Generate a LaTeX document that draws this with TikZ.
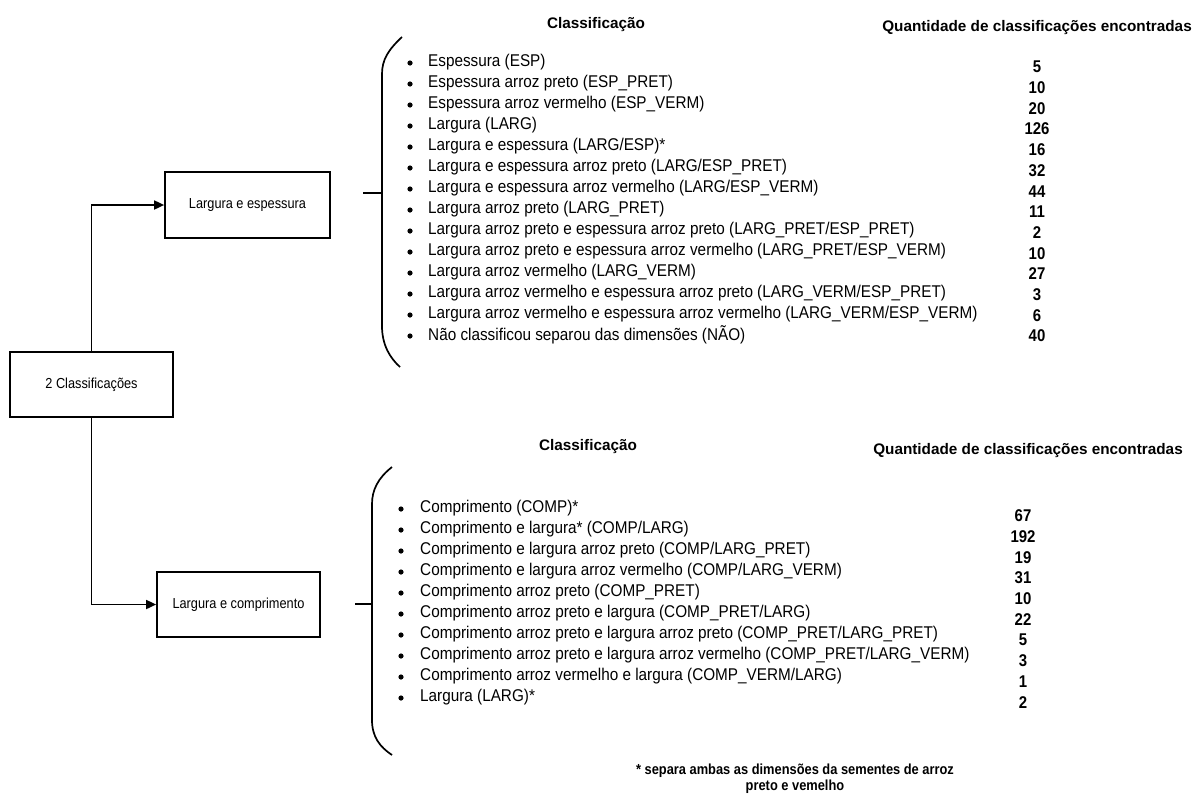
\documentclass[tikz,border=0pt]{standalone}
\usepackage{fontspec}
\setmainfont{Liberation Sans}
\newfontfamily\itemfont[FakeStretch=0.9]{Liberation Sans}
\newfontfamily\boxfont[FakeStretch=0.88]{Liberation Sans}
\newfontfamily\numfont[FakeStretch=0.88]{Liberation Sans}
\usetikzlibrary{arrows.meta}
\tikzset{
  flowbox/.style={draw, line width=1.7pt, inner sep=0pt, font=\boxfont\fontsize{14.5}{17}\selectfont},
  conn/.style={line width=1.7pt, -{Triangle[length=10pt,width=9pt]}},
  bracepath/.style={line width=1.7pt},
  itemtext/.style={anchor=west, inner sep=0pt, font=\itemfont\fontsize{17}{20}\selectfont},
  bul/.style={circle, fill, inner sep=0pt, minimum size=5.2pt},
  numtext/.style={inner sep=0pt, font=\numfont\bfseries\fontsize{17}{20}\selectfont},
  headtext/.style={inner sep=0pt, font=\bfseries\fontsize{15.3}{18}\selectfont},
  foottext/.style={inner sep=0pt, align=center, font=\numfont\bfseries\fontsize{14.6}{16}\selectfont},
}
\begin{document}
\begin{tikzpicture}[x=1pt,y=-1pt]
\useasboundingbox (0,0) rectangle (1193,793);
% boxes
\node[flowbox, minimum width=163pt, minimum height=65pt] (c2) at (91.5,384.5) {2 Classificações};
\node[flowbox, minimum width=165pt, minimum height=66pt] (le) at (247.5,205) {Largura e espessura};
\node[flowbox, minimum width=163pt, minimum height=65pt] (lc) at (238.5,604.5) {Largura e comprimento};
\draw[conn] (c2.north) |- (le.west);
\draw[conn] (c2.south) |- (lc.west);
% braces
\coordinate (tb) at (382,193);
\draw[bracepath] (402,37) .. controls (388,50) and (382,60) .. (382,74) -- (382,326) .. controls (382,345) and (390,358) .. (400,367);
\draw[bracepath] (363,193) -- (tb);
\coordinate (bb) at (372,604);
\draw[bracepath] (392,467) .. controls (378,478) and (372,490) .. (372,504) -- (372,720) .. controls (372,737) and (380,747) .. (392,755);
\draw[bracepath] (355,604) -- (bb);
% headers
\node[headtext] (h1) at (596,25) {Classificação};
\node[headtext] (q1) at (1037,28) {Quantidade de classificações encontradas};
\node[headtext] (h2) at (588,447) {Classificação};
\node[headtext] (q2) at (1028,451) {Quantidade de classificações encontradas};
% top list
\foreach \t [count=\i] in {
  Espessura (ESP),
  Espessura arroz preto (ESP\_PRET),
  Espessura arroz vermelho (ESP\_VERM),
  Largura (LARG),
  Largura e espessura (LARG/ESP)*,
  Largura e espessura arroz preto (LARG/ESP\_PRET),
  Largura e espessura arroz vermelho (LARG/ESP\_VERM),
  Largura arroz preto (LARG\_PRET),
  Largura arroz preto e espessura arroz preto (LARG\_PRET/ESP\_PRET),
  Largura arroz preto e espessura arroz vermelho (LARG\_PRET/ESP\_VERM),
  Largura arroz vermelho (LARG\_VERM),
  Largura arroz vermelho e espessura arroz preto (LARG\_VERM/ESP\_PRET),
  Largura arroz vermelho e espessura arroz vermelho (LARG\_VERM/ESP\_VERM),
  Não classificou separou das dimensões (NÃO)}{
  \node[bul] (tbul\i) at (410,{63+21*(\i-1)}) {};
  \node[itemtext] (tit\i) at (428,{62+21*(\i-1)}) {\t};
}
\foreach \n [count=\i] in {5,10,20,126,16,32,44,11,2,10,27,3,6,40}{
  \node[numtext] (tn\i) at (1037,{67+20.7*(\i-1)}) {\n};
}
% bottom list
\foreach \t [count=\i] in {
  Comprimento (COMP)*,
  Comprimento e largura* (COMP/LARG),
  Comprimento e largura arroz preto (COMP/LARG\_PRET),
  Comprimento e largura arroz vermelho (COMP/LARG\_VERM),
  Comprimento arroz preto (COMP\_PRET),
  Comprimento arroz preto e largura (COMP\_PRET/LARG),
  Comprimento arroz preto e largura arroz preto (COMP\_PRET/LARG\_PRET),
  Comprimento arroz preto e largura arroz vermelho (COMP\_PRET/LARG\_VERM),
  Comprimento arroz vermelho e largura (COMP\_VERM/LARG),
  Largura (LARG)*}{
  \node[bul] (bbul\i) at (401,{509+21*(\i-1)}) {};
  \node[itemtext] (bit\i) at (420,{508+21*(\i-1)}) {\t};
}
\foreach \n [count=\i] in {67,192,19,31,10,22,5,3,1,2}{
  \node[numtext] (bn\i) at (1023,{516+20.7*(\i-1)}) {\n};
}
% footnote
\node[foottext] (fn) at (795,779) {* separa ambas as dimensões da sementes de arroz\\preto e vemelho};
\end{tikzpicture}
\end{document}
